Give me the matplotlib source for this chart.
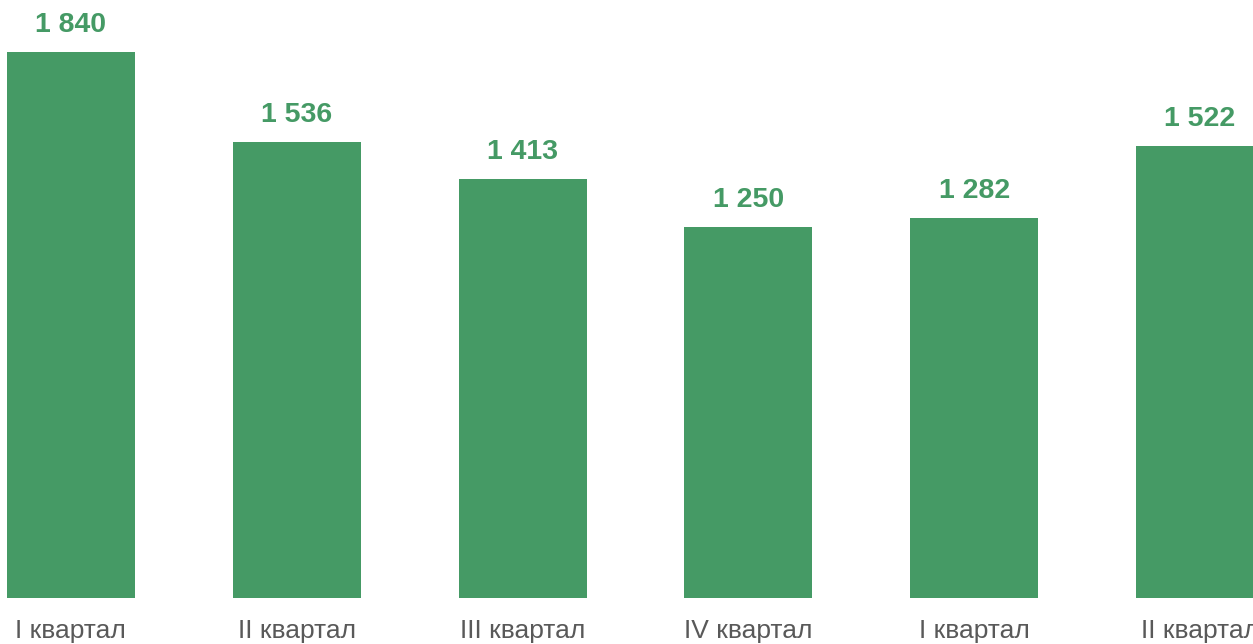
import matplotlib
matplotlib.use("Agg")
import matplotlib.pyplot as plt

categories = ["I квартал", "II квартал", "III квартал", "IV квартал", "I квартал", "II квартал"]
values = [1840, 1536, 1413, 1250, 1282, 1522]
value_labels = ["1 840", "1 536", "1 413", "1 250", "1 282", "1 522"]

plt.rcParams['font.family'] = ['Liberation Sans', 'DejaVu Sans']

fig = plt.figure(figsize=(12.53, 6.44), dpi=100)
ax = fig.add_axes([0, 46 / 644, 1, 598 / 644])

green = "#459A65"
x = list(range(len(values)))
bars = ax.bar(x, values, width=0.567, color=green)
for xi, v, lab in zip(x, values, value_labels):
    ax.annotate(lab, (xi, v), xytext=(0, 10), textcoords="offset points",
                ha="center", va="bottom", fontsize=20.5, fontweight="bold", color=green)

ax.set_xlim(-0.314, 5.235)
ax.set_ylim(0, 2015)
ax.set_xticks(x)
ax.set_xticklabels(categories, fontsize=19, color="#595959")
ax.tick_params(axis="x", length=0, pad=15)
ax.set_yticks([])
for s in ax.spines.values():
    s.set_visible(False)

fig.savefig("out.png", dpi=100)
